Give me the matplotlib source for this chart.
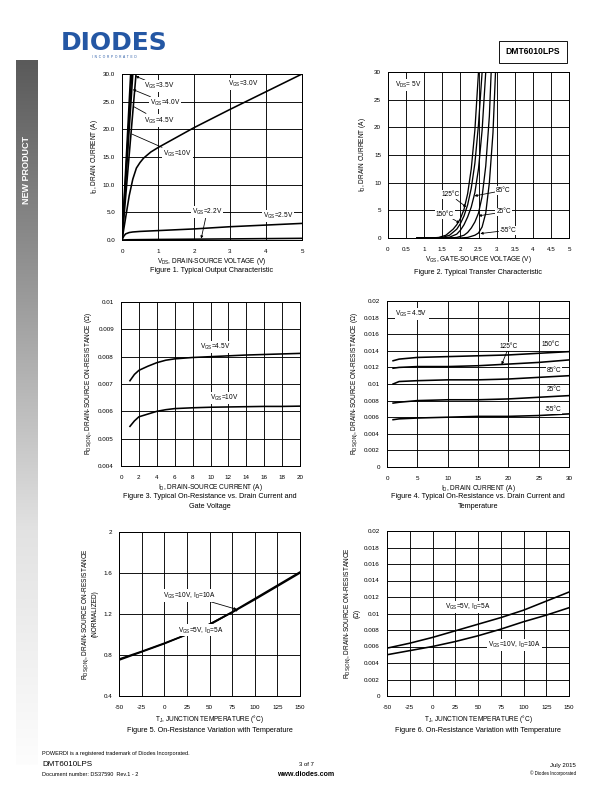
import numpy as np
import matplotlib
matplotlib.use("Agg")
import matplotlib.pyplot as plt
from matplotlib.colors import LinearSegmentedColormap

plt.rcParams['font.family'] = ['Liberation Sans', 'DejaVu Sans']
plt.rcParams['mathtext.fontset'] = 'custom'
plt.rcParams['mathtext.rm'] = 'Liberation Sans'
plt.rcParams['mathtext.it'] = 'Liberation Sans:italic'
plt.rcParams['mathtext.bf'] = 'Liberation Sans:bold'
plt.rcParams['axes.unicode_minus'] = False

# ---------------- data ----------------
# Fig 1: output characteristic
f1_steep_labels = ["10V", "4.5V", "4.0V", "3.5V"]
f1_steep_top = [0.24, 0.27, 0.30, 0.39]
f1_v30_x = [0, 0.1, 0.2, 0.3, 0.4, 0.5, 0.6, 0.8, 1.0, 1.5, 2.0, 3.0, 4.0, 5.0]
f1_v30_y = [0, 4.0, 8.0, 11.0, 13.0, 14.0, 14.8, 15.9, 16.7, 18.5, 20.3, 23.6, 26.8, 30.0]
f1_v25_x = [0, 0.05, 0.1, 0.2, 0.3, 0.5, 1.0, 2.0, 3.0, 4.0, 5.0]
f1_v25_y = [0, 0.7, 1.1, 1.35, 1.45, 1.55, 1.7, 2.0, 2.4, 2.7, 3.0]
f1_v22_x = [0, 0.2, 1.0, 2.0, 3.0, 4.0, 5.0]
f1_v22_y = [0, 0.05, 0.1, 0.15, 0.2, 0.25, 0.3]

# Fig 2: transfer characteristic
f2_labels = ["150°C", "125°C", "85°C", "25°C", "-55°C"]
f2_v = [
    [0.8, 1.2, 1.4, 1.6, 1.8, 1.9, 2.0, 2.1, 2.2, 2.3, 2.4, 2.5],
    [0.8, 1.3, 1.5, 1.7, 1.9, 2.0, 2.1, 2.2, 2.3, 2.4, 2.5, 2.6],
    [0.8, 1.5, 1.7, 1.9, 2.0, 2.1, 2.2, 2.3, 2.4, 2.5, 2.6, 2.7],
    [0.8, 1.7, 1.9, 2.1, 2.2, 2.3, 2.4, 2.5, 2.6, 2.7, 2.8, 2.85],
    [0.8, 2.0, 2.2, 2.4, 2.5, 2.6, 2.7, 2.8, 2.9, 2.97],
]
f2_i = [
    [0, 0, 0.1, 0.5, 1.6, 2.4, 3.5, 5.2, 8.0, 12.5, 19.5, 30],
    [0, 0, 0.1, 0.5, 1.6, 2.6, 4.0, 6.0, 9.0, 13.5, 20.5, 30],
    [0, 0, 0.15, 0.7, 1.4, 2.4, 3.8, 5.6, 8.2, 12.5, 19.5, 30],
    [0, 0, 0.1, 0.5, 1.0, 1.8, 2.9, 4.5, 7.5, 13.0, 22.0, 30],
    [0, 0, 0.1, 0.5, 0.9, 2.0, 4.5, 10.0, 19.0, 30],
]

# Fig 3: RDS(on) vs ID and VGS
f3_id = [1, 1.5, 2, 3, 4, 5, 6, 8, 10, 12, 14, 16, 18, 20]
f3_r45 = [0.00712, 0.00735, 0.0075, 0.00765, 0.00778, 0.00787, 0.00792, 0.00797,
          0.0080, 0.00803, 0.00806, 0.00808, 0.0081, 0.00812]
f3_r10 = [0.00545, 0.00565, 0.0058, 0.0059, 0.0060, 0.00606, 0.0061, 0.00613,
          0.00615, 0.00616, 0.00617, 0.00618, 0.00618, 0.00619]

# Fig 4: RDS(on) vs ID and temperature
f4_id = [1, 2, 5, 10, 15, 20, 25, 30]
f4_labels = ["150°C", "125°C", "85°C", "25°C", "-55°C"]
f4_r = [
    [0.0128, 0.0130, 0.0132, 0.0133, 0.0134, 0.0135, 0.0137, 0.0139],
    [0.0119, 0.0120, 0.0121, 0.0121, 0.0122, 0.0124, 0.0126, 0.0129],
    [0.0100, 0.0103, 0.0104, 0.0105, 0.0105, 0.0106, 0.0108, 0.0110],
    [0.0077, 0.0078, 0.0080, 0.0081, 0.0081, 0.0082, 0.0084, 0.0086],
    [0.0057, 0.0058, 0.0059, 0.0060, 0.0061, 0.0061, 0.0062, 0.0064],
]

# Fig 5: normalized RDS(on) vs temperature
f5_t = [-50, -25, 0, 25, 50, 75, 100, 125, 150]
f5_a = [0.75, 0.83, 0.91, 1.00, 1.10, 1.22, 1.35, 1.48, 1.61]
f5_b = [0.76, 0.835, 0.915, 1.00, 1.10, 1.215, 1.34, 1.47, 1.60]

# Fig 6: RDS(on) vs temperature
f6_t = [-50, -25, 0, 25, 50, 75, 100, 125, 150]
f6_5v = [0.0058, 0.0064, 0.0071, 0.0079, 0.0087, 0.0095, 0.0104, 0.0115, 0.0126]
f6_10v = [0.0050, 0.0055, 0.0060, 0.0066, 0.0073, 0.0081, 0.0090, 0.0098, 0.0107]

# ---------------- figure ----------------
W, H = 612, 792
fig = plt.figure(figsize=(W / 72, H / 72), dpi=72)


def ax_px(l, r, t, b):
    return fig.add_axes([l / W, 1 - b / H, (r - l) / W, (b - t) / H])


def ftext(x, y, s, **kw):
    fig.text(x / W, 1 - y / H, s, **kw)


TICK_FS = 6.3
LAB_FS = 6.5
ANN_FS = 6.5
CAP_FS = 7.3
LW = 1.6
WB = dict(boxstyle='square,pad=0.15', fc='white', ec='none')
ARR = dict(arrowstyle='-|>', color='k', lw=0.8, mutation_scale=5, shrinkA=0, shrinkB=0)


def style(ax, xlim, ylim, xt, yt, xfmt=None, yfmt=None):
    ax.set_xlim(*xlim)
    ax.set_ylim(*ylim)
    ax.set_xticks(xt)
    ax.set_yticks(yt)
    if xfmt:
        ax.set_xticklabels([xfmt(v) for v in xt])
    if yfmt:
        ax.set_yticklabels([yfmt(v) for v in yt])
    ax.grid(True, color='k', lw=0.9)
    ax.set_axisbelow(True)
    ax.tick_params(length=0, labelsize=TICK_FS)
    ax.tick_params(axis='x', pad=9)
    ax.tick_params(axis='y', pad=7)
    for s in ax.spines.values():
        s.set_linewidth(1.0)


def gfmt(v):
    s = ("%.3f" % v).rstrip('0').rstrip('.')
    return s


# Fig 1
ax1 = ax_px(122, 302, 74, 240)
style(ax1, (0, 5), (0, 30), [0, 1, 2, 3, 4, 5], [0, 5, 10, 15, 20, 25, 30],
      yfmt=lambda v: "%.1f" % v)
for top in f1_steep_top:
    ax1.plot([0, top], [0, 30], color='k', lw=LW)
ax1.plot(f1_v30_x, f1_v30_y, color='k', lw=LW)
ax1.plot(f1_v25_x, f1_v25_y, color='k', lw=LW)
ax1.plot(f1_v22_x, f1_v22_y, color='k', lw=LW)
ax1.annotate(r"V$_{\rm GS}$=3.5V", xy=(0.38, 29.6), xytext=(0.62, 27.8), fontsize=ANN_FS,
             va='center', ha='left', bbox=WB, arrowprops=ARR)
ax1.annotate(r"V$_{\rm GS}$=4.0V", xy=(0.30, 27.2), xytext=(0.78, 24.8), fontsize=ANN_FS,
             va='center', ha='left', bbox=WB, arrowprops=ARR)
ax1.annotate(r"V$_{\rm GS}$=4.5V", xy=(0.27, 24.3), xytext=(0.6, 21.6), fontsize=ANN_FS,
             va='center', ha='left', bbox=WB, arrowprops=dict(arrowstyle='-', color='k', lw=0.8))
ax1.annotate(r"V$_{\rm GS}$=10V", xy=(0.22, 19.3), xytext=(1.15, 15.5), fontsize=ANN_FS,
             va='center', ha='left', bbox=WB, arrowprops=dict(arrowstyle='-', color='k', lw=0.8))
ax1.text(2.95, 28.2, r"V$_{\rm GS}$=3.0V", fontsize=ANN_FS, va='center', ha='left', bbox=WB)
ax1.annotate(r"V$_{\rm GS}$=2.2V", xy=(2.2, 0.25), xytext=(1.94, 5.1), fontsize=ANN_FS,
             va='center', ha='left', bbox=WB, arrowprops=ARR)
ax1.text(3.92, 4.4, r"V$_{\rm GS}$=2.5V", fontsize=ANN_FS, va='center', ha='left', bbox=WB)
ax1.set_xlabel(r"V$_{\rm DS}$, DRAIN-SOURCE VOLTAGE (V)", fontsize=LAB_FS, labelpad=2)
ax1.set_ylabel(r"I$_{\rm D}$, DRAIN CURRENT (A)", fontsize=LAB_FS, labelpad=3)
ftext(212, 271, "Figure 1. Typical Output Characteristic", fontsize=CAP_FS, ha='center', va='center')

# Fig 2
ax2 = ax_px(388, 569, 72, 238)
style(ax2, (0, 5), (0, 30), [0, 0.5, 1, 1.5, 2, 2.5, 3, 3.5, 4, 4.5, 5],
      [0, 5, 10, 15, 20, 25, 30], xfmt=gfmt)
for v, i in zip(f2_v, f2_i):
    ax2.plot(v, i, color='k', lw=1.3)
ax2.text(0.2, 27.6, r"V$_{\rm DS}$= 5V", fontsize=ANN_FS, va='center', ha='left', bbox=WB)
ax2.annotate(f2_labels[1], xy=(2.16, 5.6), xytext=(1.47, 7.8), fontsize=ANN_FS,
             va='center', ha='left', bbox=WB, arrowprops=ARR)
ax2.annotate(f2_labels[0], xy=(1.98, 2.7), xytext=(1.32, 4.3), fontsize=ANN_FS,
             va='center', ha='left', bbox=WB, arrowprops=ARR)
ax2.annotate(f2_labels[2], xy=(2.39, 7.6), xytext=(2.99, 8.6), fontsize=ANN_FS,
             va='center', ha='left', bbox=WB, arrowprops=ARR)
ax2.annotate(f2_labels[3], xy=(2.5, 4.0), xytext=(2.99, 4.7), fontsize=ANN_FS,
             va='center', ha='left', bbox=WB, arrowprops=ARR)
ax2.annotate(f2_labels[4], xy=(2.55, 0.8), xytext=(3.08, 1.4), fontsize=ANN_FS,
             va='center', ha='left', bbox=WB, arrowprops=ARR)
ax2.set_xlabel(r"V$_{\rm GS}$, GATE-SOURCE VOLTAGE (V)", fontsize=LAB_FS, labelpad=2)
ax2.set_ylabel(r"I$_{\rm D}$, DRAIN CURRENT (A)", fontsize=LAB_FS, labelpad=6)
ftext(478, 272, "Figure 2. Typical Transfer Characteristic", fontsize=CAP_FS, ha='center', va='center')

# Fig 3
ax3 = ax_px(121, 300, 302, 466)
style(ax3, (0, 20), (0.004, 0.01), list(range(0, 21, 2)),
      [0.004, 0.005, 0.006, 0.007, 0.008, 0.009, 0.01], yfmt=gfmt)
ax3.plot(f3_id, f3_r45, color='k', lw=LW)
ax3.plot(f3_id, f3_r10, color='k', lw=LW)
ax3.text(8.85, 0.00836, r"V$_{\rm GS}$=4.5V", fontsize=ANN_FS, va='center', ha='left', bbox=WB)
ax3.text(9.96, 0.0065, r"V$_{\rm GS}$=10V", fontsize=ANN_FS, va='center', ha='left', bbox=WB)
ax3.set_xlabel(r"I$_{\rm D}$, DRAIN-SOURCE CURRENT (A)", fontsize=LAB_FS, labelpad=2)
ax3.set_ylabel(r"R$_{\rm DS(ON)}$, DRAIN-SOURCE ON-RESISTANCE (Ω)", fontsize=LAB_FS, labelpad=4)
ftext(210, 497, "Figure 3. Typical On-Resistance vs. Drain Current and", fontsize=CAP_FS, ha='center', va='center')
ftext(210, 507, "Gate Voltage", fontsize=CAP_FS, ha='center', va='center')

# Fig 4
ax4 = ax_px(387, 569, 301, 467)
style(ax4, (0, 30), (0, 0.02), [0, 5, 10, 15, 20, 25, 30],
      [0, 0.002, 0.004, 0.006, 0.008, 0.01, 0.012, 0.014, 0.016, 0.018, 0.02], yfmt=gfmt)
for r in f4_r:
    ax4.plot(f4_id, r, color='k', lw=LW)
ax4.text(1.4, 0.01843, r"V$_{\rm GS}$= 4.5V", fontsize=ANN_FS, va='center', ha='left', bbox=WB)
ax4.annotate(f4_labels[1], xy=(18.9, 0.01235), xytext=(18.6, 0.0145), fontsize=ANN_FS,
             va='center', ha='left', bbox=WB, arrowprops=ARR)
ax4.text(25.5, 0.0148, f4_labels[0], fontsize=ANN_FS, va='center', ha='left', bbox=WB)
ax4.text(26.3, 0.01167, f4_labels[2], fontsize=ANN_FS, va='center', ha='left', bbox=WB)
ax4.text(26.3, 0.00934, f4_labels[3], fontsize=ANN_FS, va='center', ha='left', bbox=WB)
ax4.text(26.0, 0.00696, f4_labels[4], fontsize=ANN_FS, va='center', ha='left', bbox=WB)
ax4.set_xlabel(r"I$_{\rm D}$, DRAIN CURRENT (A)", fontsize=LAB_FS, labelpad=2)
ax4.set_ylabel(r"R$_{\rm DS(ON)}$, DRAIN-SOURCE ON-RESISTANCE (Ω)", fontsize=LAB_FS, labelpad=4)
ftext(478, 497, "Figure 4. Typical On-Resistance vs. Drain Current and", fontsize=CAP_FS, ha='center', va='center')
ftext(478, 507, "Temperature", fontsize=CAP_FS, ha='center', va='center')

# Fig 5
ax5 = ax_px(119, 300, 532, 696)
style(ax5, (-50, 150), (0.4, 2.0), list(range(-50, 151, 25)),
      [0.4, 0.8, 1.2, 1.6, 2.0], yfmt=gfmt)
ax5.plot(f5_t, f5_a, color='k', lw=LW)
ax5.plot(f5_t, f5_b, color='k', lw=LW)
ax5.annotate(r"V$_{\rm GS}$=10V, I$_{\rm D}$=10A", xy=(80, 1.245), xytext=(-1.3, 1.38),
             fontsize=ANN_FS, va='center', ha='left', bbox=WB, arrowprops=ARR)
ax5.annotate(r"V$_{\rm GS}$=5V, I$_{\rm D}$=5A", xy=(82, 1.25), xytext=(15.3, 1.04),
             fontsize=ANN_FS, va='center', ha='left', bbox=WB, arrowprops=ARR)
ax5.set_xlabel(r"T$_{\rm J}$, JUNCTION TEMPERATURE (°C)", fontsize=LAB_FS, labelpad=3)
ax5.set_ylabel("R$_{\\rm DS(ON)}$, DRAIN-SOURCE ON-RESISTANCE\n(NORMALIZED)", fontsize=LAB_FS,
               labelpad=5, linespacing=1.1)
ftext(210, 731, "Figure 5. On-Resistance Variation with Temperature", fontsize=CAP_FS, ha='center', va='center')

# Fig 6
ax6 = ax_px(387, 569, 531, 696)
style(ax6, (-50, 150), (0, 0.02), list(range(-50, 151, 25)),
      [0, 0.002, 0.004, 0.006, 0.008, 0.01, 0.012, 0.014, 0.016, 0.018, 0.02], yfmt=gfmt)
ax6.plot(f6_t, f6_5v, color='k', lw=LW)
ax6.plot(f6_t, f6_10v, color='k', lw=LW)
ax6.text(13.9, 0.01078, r"V$_{\rm GS}$=5V, I$_{\rm D}$=5A", fontsize=ANN_FS, va='center', ha='left', bbox=WB)
ax6.text(61.3, 0.00616, r"V$_{\rm GS}$=10V, I$_{\rm D}$=10A", fontsize=ANN_FS, va='center', ha='left', bbox=WB)
ax6.set_xlabel(r"T$_{\rm J}$, JUNCTION TEMPERATURE (°C)", fontsize=LAB_FS, labelpad=3)
ax6.set_ylabel("R$_{\\rm DS(ON)}$, DRAIN-SOURCE ON-RESISTANCE\n(Ω)", fontsize=LAB_FS,
               labelpad=4, linespacing=1.1)
ftext(478, 731, "Figure 6. On-Resistance Variation with Temperature", fontsize=CAP_FS, ha='center', va='center')

# ---------------- page decorations ----------------
# side gradient bar
axb = ax_px(16, 37, 60, 765)
cmap = LinearSegmentedColormap.from_list('g', ['#5a5a5a', '#9a9a9a', '#e2e2e2', '#fdfdfd'])
axb.imshow(np.linspace(0, 1, 256).reshape(-1, 1), aspect='auto', cmap=cmap, extent=(0, 1, 1, 0))
axb.axis('off')
ftext(26.5, 170, "NEW PRODUCT", fontsize=9, color='white', fontweight='bold', rotation=90,
      ha='center', va='center')

# logo
ftext(114, 43, "DIODES", fontsize=25, color='#2457a4', fontweight='bold', ha='center', va='center',
      family='DejaVu Sans')
ftext(114, 57, "I  N  C  O  R  P  O  R  A  T  E  D", fontsize=3.2, color='#2457a4', ha='center', va='center')

# part number box
ftext(533, 52, "DMT6010LPS", fontsize=8.5, fontweight='bold', ha='center', va='center',
      bbox=dict(boxstyle='square,pad=0.8', fc='white', ec='k', lw=0.9))

# footer
ftext(42, 754, "POWERDI is a registered trademark of Diodes Incorporated.", fontsize=5.5, va='center')
ftext(42, 764, "DMT6010LPS", fontsize=8, va='center')
ftext(42, 774, "Document number: DS37590  Rev.1 - 2", fontsize=5.5, va='center')
ftext(306, 765, "3 of 7", fontsize=6, ha='center', va='center')
ftext(306, 774, "www.diodes.com", fontsize=7, fontweight='bold', ha='center', va='center')
ftext(576, 766, "July 2015", fontsize=6, ha='right', va='center')
ftext(576, 773, "© Diodes Incorporated", fontsize=4.5, ha='right', va='center')

fig.savefig("out.png", dpi=72)
